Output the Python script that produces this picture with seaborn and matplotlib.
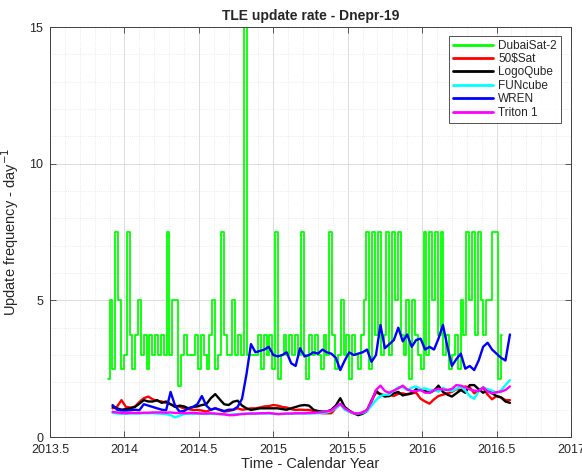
import numpy as np
import pandas as pd
import matplotlib
matplotlib.use("Agg")
import matplotlib.pyplot as plt
import seaborn as sns
from matplotlib.ticker import MultipleLocator

# DubaiSat-2: weekly samples starting 2013.89
dubaisat_t0, dubaisat_step = 2013.89, 0.01918
dubaisat = [2.14, 5, 2.5, 7.5, 5, 2.5, 3, 7.5, 3.75, 2.5,
            3.75, 5, 3, 3.75, 2.5, 3.75, 3, 3.75, 3, 3.75,
            3, 7.5, 3, 5, 5, 1.875, 3, 3.75, 3, 3,
            3, 3.75, 2.5, 3.75, 3, 2.5, 3.75, 5, 2.5, 3,
            7.5, 3.75, 3, 3, 5, 3, 3.75, 3, 15, 3,
            3, 3, 3, 3.75, 2.5, 3.75, 3, 3.75, 2.5, 7.5,
            2.14, 3, 3.75, 3, 3.75, 3, 3.75, 3, 7.5, 3,
            2.14, 3.75, 3, 3.75, 3, 2.5, 3.75, 3, 7.5, 3.75,
            2.5, 3, 5, 3, 3.75, 2.14, 3.75, 3, 2.5, 3.75,
            5, 7.5, 2.5, 7.5, 3.75, 7.5, 3, 3.75, 7.5, 3,
            7.5, 5, 7.5, 3.75, 3, 5, 2.14, 5, 3.75, 3,
            2.5, 7.5, 3, 7.5, 5, 7.5, 3.75, 7.5, 3, 3.75,
            2.5, 3, 3.75, 2.5, 5, 3.75, 7.5, 5, 7.5, 3.75,
            7.5, 5, 3.75, 5, 5, 7.5, 7.5, 2.14, 3.75]

# other satellites: samples every 0.03 yr starting 2013.92
other_t0, other_step = 2013.92, 0.03
sat50 = [1.05, 1.11, 1.35, 1.1, 1.08, 1.11, 1.28, 1.42, 1.48, 1.38,
         1.32, 1.3, 1.25, 1.2, 1.15, 1.11, 1.05, 1.02, 0.99, 0.99,
         0.97, 0.93, 1.0, 1.05, 0.99, 0.93, 0.95, 0.99, 1.05, 1.0,
         1.02, 1.05, 1.05, 1.08, 1.12, 1.13, 1.17, 1.15, 1.1, 1.08,
         1.02, 0.99, 1.0, 0.99, 0.99, 0.95, 0.9, 0.87, 0.87, 0.87,
         1.05, 1.2, 1.05, 0.93, 0.87, 0.85, 0.9, 0.99, 1.35, 1.62,
         1.58, 1.52, 1.55, 1.5, 1.58, 1.6, 1.55, 1.6, 1.62, 1.4,
         1.3, 1.22, 1.38, 1.5, 1.55, 1.6, 1.65, 1.75, 1.72, 1.85,
         1.82, 1.6, 1.7, 1.8, 1.55, 1.38, 1.5, 1.45, 1.35, 1.35]
logoqube = [1.11, 1.05, 1.0, 1.02, 1.05, 1.1, 1.22, 1.35, 1.3, 1.3,
            1.35, 1.25, 1.3, 1.2, 1.1, 1.15, 1.12, 1.05, 1.1, 1.12,
            1.17, 1.2, 1.42, 1.57, 1.38, 1.2, 1.17, 1.29, 1.33, 1.15,
            1.05, 0.99, 1.02, 1.05, 1.05, 1.05, 1.05, 1.05, 1.02, 1.0,
            1.05, 1.1, 1.15, 1.17, 1.15, 1.0, 0.95, 0.93, 0.93, 1.0,
            1.15, 1.42, 1.1, 0.97, 0.87, 0.8, 0.85, 0.95, 1.3, 1.7,
            1.55, 1.48, 1.5, 1.6, 1.65, 1.52, 1.57, 1.6, 1.75, 1.72,
            1.68, 1.62, 1.7, 1.88, 1.65, 1.55, 1.48, 1.6, 1.72, 1.62,
            1.9, 1.9, 1.75, 1.62, 1.72, 1.6, 1.5, 1.45, 1.3, 1.25]
funcube = [0.88, 0.86, 0.85, 0.85, 0.86, 0.86, 0.86, 0.87, 0.87, 0.87,
           0.86, 0.85, 0.84, 0.8, 0.72, 0.78, 0.84, 0.85, 0.85, 0.85,
           0.85, 0.84, 0.85, 0.84, 0.84, 0.83, 0.82, 0.83, 0.84, 0.85,
           0.86, 0.86, 0.85, 0.86, 0.86, 0.86, 0.85, 0.84, 0.84, 0.85,
           0.85, 0.86, 0.86, 0.86, 0.86, 0.87, 0.87, 0.88, 0.9, 0.95,
           1.05, 1.2, 1.0, 0.92, 0.87, 0.86, 0.88, 0.95, 1.15, 1.35,
           1.5, 1.55, 1.55, 1.7, 1.82, 1.82, 1.72, 1.8, 1.85, 1.75,
           1.78, 1.72, 1.72, 1.66, 1.8, 1.72, 1.68, 1.76, 1.85, 1.7,
           1.5, 1.4, 1.68, 1.82, 1.75, 1.7, 1.62, 1.7, 1.9, 2.08]
wren = [1.17, 1.0, 0.97, 0.97, 0.98, 1.0, 0.98, 1.2, 1.15, 1.1,
        1.05, 1.0, 0.98, 1.65, 1.15, 0.93, 0.95, 1.05, 1.1, 1.2,
        1.5, 1.15, 1.0, 1.05, 1.0, 0.95, 1.0, 1.0, 1.1, 1.4,
        2.3, 3.4, 3.1, 3.15, 3.2, 3.3, 3.0, 2.95, 3.0, 3.1,
        2.7, 2.6, 3.25, 2.95, 3.0, 3.1, 3.05, 3.2, 3.1, 3.05,
        2.9, 2.45, 2.8, 3.1, 3.0, 3.05, 3.1, 3.2, 2.75, 3.0,
        4.1, 3.25, 3.4, 3.55, 4.0, 3.5, 3.75, 3.3, 3.55, 3.6,
        3.2, 3.3, 3.2, 3.6, 4.1, 3.3, 2.6, 2.85, 3.05, 2.5,
        2.6, 2.45, 2.8, 3.3, 3.45, 3.2, 3.05, 2.9, 2.8, 3.75]
triton = [0.92, 0.9, 0.88, 0.87, 0.88, 0.88, 0.88, 0.89, 0.89, 0.9,
          0.9, 0.9, 0.89, 0.9, 0.88, 0.88, 0.87, 0.88, 0.88, 0.87,
          0.86, 0.86, 0.87, 0.86, 0.84, 0.83, 0.8, 0.8, 0.82, 0.84,
          0.85, 0.86, 0.86, 0.87, 0.87, 0.88, 0.86, 0.84, 0.85, 0.86,
          0.86, 0.87, 0.87, 0.87, 0.88, 0.88, 0.9, 0.91, 0.94, 0.97,
          1.1, 1.22, 1.05, 0.95, 0.87, 0.86, 0.9, 0.99, 1.3, 1.72,
          1.88, 1.68, 1.62, 1.7, 1.78, 1.88, 1.74, 1.68, 1.68, 1.72,
          1.62, 1.62, 1.72, 1.76, 1.74, 1.72, 1.76, 1.9, 1.88, 1.82,
          1.74, 1.7, 1.68, 1.82, 1.66, 1.6, 1.64, 1.66, 1.72, 1.85]

names = ["DubaiSat-2", "50\\$Sat", "LogoQube", "FUNcube", "WREN", "Triton 1"]
colors = ["#00ff00", "#ff0000", "#000000", "#00ffff", "#0000ff", "#ff00ff"]
series = [dubaisat, sat50, logoqube, funcube, wren, triton]

sns.set_style("white")
plt.rcParams["font.family"] = ["Liberation Sans", "DejaVu Sans"]

fig = plt.figure(figsize=(5.82, 4.74), dpi=100)
ax = fig.add_axes([0.086, 0.078, 0.895, 0.865])

for name, vals, col in zip(names, series, colors):
    if name == "DubaiSat-2":
        t = dubaisat_t0 + dubaisat_step * np.arange(len(vals))
        extra = dict(drawstyle="steps-mid", linewidth=1.3)
    else:
        t = other_t0 + other_step * np.arange(len(vals))
        extra = dict(linewidth=1.7)
    d = pd.DataFrame({"year": t, "rate": vals})
    sns.lineplot(data=d, x="year", y="rate", color=col, label=name,
                 sort=False, estimator=None, ax=ax, **extra)

ax.set_xlim(2013.5, 2017)
ax.set_ylim(0, 15)
ax.xaxis.set_minor_locator(MultipleLocator(0.1))
ax.yaxis.set_major_locator(MultipleLocator(5))
ax.yaxis.set_minor_locator(MultipleLocator(1))
ax.set_xticks(np.arange(2013.5, 2017.01, 0.5))
ax.set_xticklabels(["2013.5", "2014", "2014.5", "2015", "2015.5", "2016", "2016.5", "2017"])
ax.grid(which="major", color="#dcdcdc", linewidth=0.7)
ax.grid(which="minor", color="#e3e3e3", linestyle=":", linewidth=0.6)
ax.set_axisbelow(True)
ax.tick_params(which="major", direction="in", length=4, width=0.6, color="#404040",
               labelsize=9, colors="#262626", top=True, right=True, bottom=True, left=True)
ax.tick_params(axis="x", pad=5)
ax.tick_params(axis="y", pad=5)
ax.tick_params(which="minor", length=0)
for s in ax.spines.values():
    s.set_color("#404040")
    s.set_linewidth(0.7)

ax.set_xlabel("Time - Calendar Year", fontsize=10.5, color="#262626", labelpad=1)
ax.set_ylabel("Update frequency - day$^{-1}$", fontsize=10.5, color="#262626", labelpad=6)
ax.set_title("TLE update rate - Dnepr-19", fontsize=10, fontweight="bold", pad=5)

leg = ax.legend(loc="upper right", bbox_to_anchor=(0.985, 0.985), fontsize=8.5,
                handlelength=3.4, frameon=True, fancybox=False, borderpad=0.35,
                labelspacing=0.12, handletextpad=0.4, borderaxespad=0.2)
leg.get_frame().set_edgecolor("#262626")
leg.get_frame().set_linewidth(0.7)
for line in leg.get_lines():
    line.set_linewidth(2)

fig.savefig("out.png", dpi=100)
